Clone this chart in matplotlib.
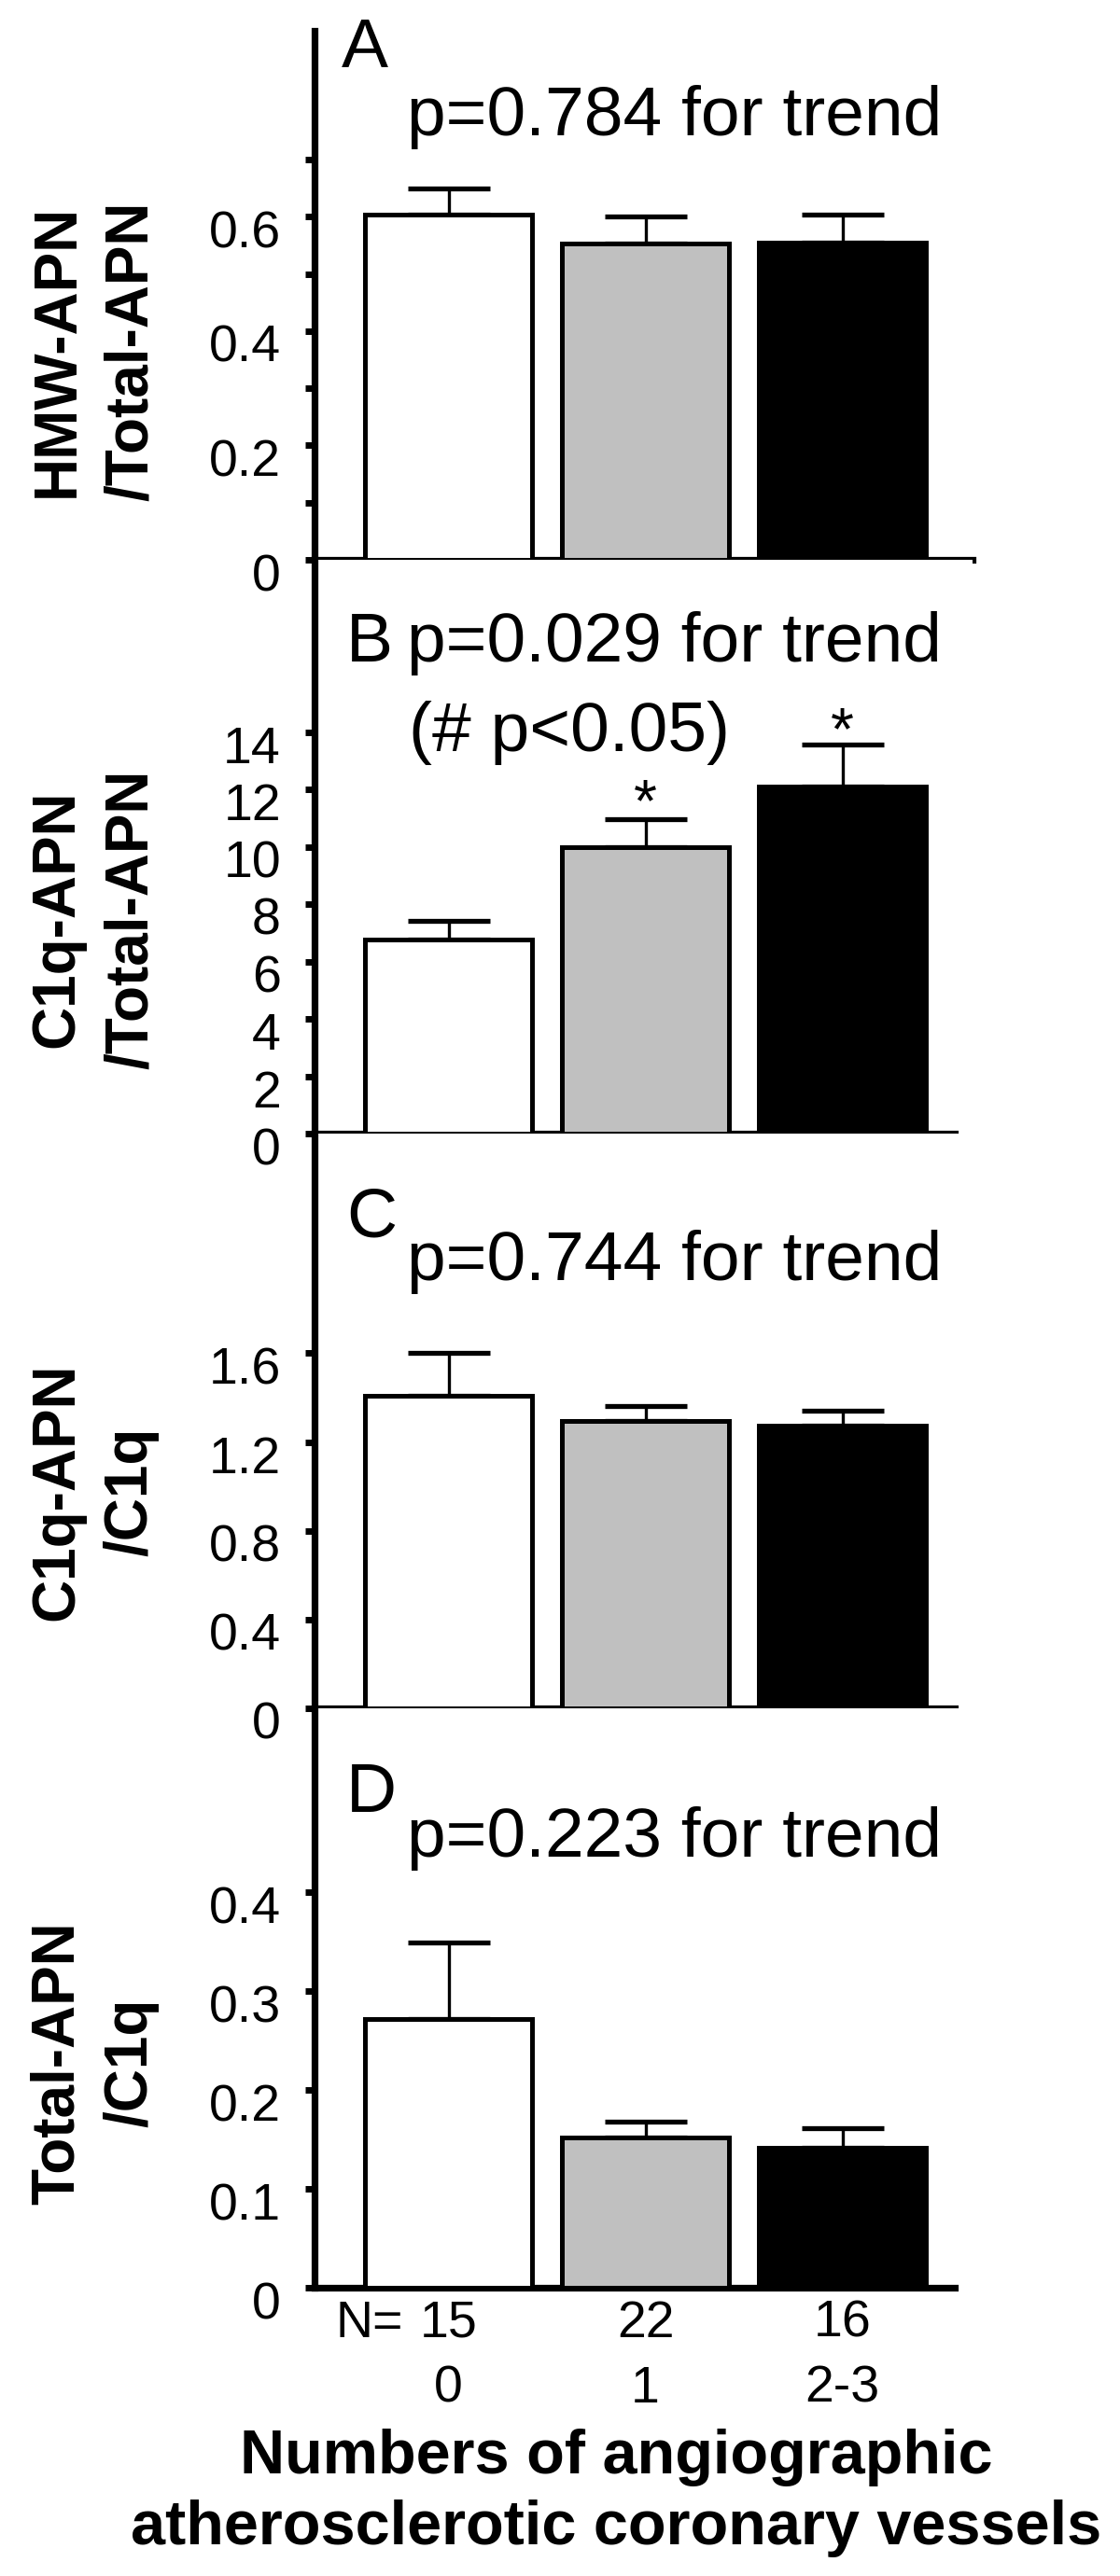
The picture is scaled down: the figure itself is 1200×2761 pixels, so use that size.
import numpy as np
import matplotlib.pyplot as plt
from matplotlib.transforms import ScaledTranslation, blended_transform_factory

plt.rcParams['font.family'] = ['Liberation Sans', 'DejaVu Sans']

# ---------------- data ----------------
groups = ['0', '1', '2-3']
n_counts = ['15', '22', '16']
bar_colors = ['white', '#c0c0c0', 'black']

hmw_total = [0.603, 0.553, 0.555]
hmw_total_err = [0.047, 0.047, 0.048]

c1q_total = [6.77, 9.97, 12.10]
c1q_total_err = [0.63, 0.99, 1.47]

c1q_apn_c1q = [1.41, 1.297, 1.272]
c1q_apn_c1q_err = [0.19, 0.065, 0.068]

total_c1q = [0.272, 0.152, 0.142]
total_c1q_err = [0.077, 0.016, 0.019]

panel_letters = ['A', 'B', 'C', 'D']
p_texts = ['p=0.784 for trend', 'p=0.029 for trend',
           'p=0.744 for trend', 'p=0.223 for trend']
y_titles = ['HMW-APN\n/Total-APN', 'C1q-APN\n/Total-APN',
            'C1q-APN\n/C1q', 'Total-APN\n/C1q']
y_ticks = [[0, 0.2, 0.4, 0.6],
           [0, 2, 4, 6, 8, 10, 12, 14],
           [0, 0.4, 0.8, 1.2, 1.6],
           [0, 0.1, 0.2, 0.3, 0.4]]
y_ticklabels = [['0', '0.2', '0.4', '0.6'],
                ['0', '2', '4', '6', '8', '10', '12', '14'],
                ['0', '0.4', '0.8', '1.2', '1.6'],
                ['0', '0.1', '0.2', '0.3', '0.4']]
a_minor_ticks = [0.1, 0.3, 0.5, 0.7]
y_tops = [0.925, 20.0, 2.59, 0.586]
sig_bars = [1, 2]          # groups marked with * in panel B
sig_star_y = [10.9, 13.4]  # star baselines in panel B units

values = [hmw_total, c1q_total, c1q_apn_c1q, total_c1q]
errors = [hmw_total_err, c1q_total_err, c1q_apn_c1q_err, total_c1q_err]

# ---------------- layout (pixels) ----------------
W, H = 1200, 2761
AX_LEFT, AX_RIGHT = 337, 1042
panel_px = [(33, 600), (600, 1215), (1215, 1831), (1831, 2452)]
letter_pos = [(366, 72), (371, 709), (371, 1325), (371, 1942)]
ptext_pos = [(436, 145), (436, 709), (436, 1372), (436, 1990)]
ytitle_pos = [(101, 376), (101, 985), (101, 1599), (101, 2211)]

fig = plt.figure(figsize=(W / 100, H / 100), dpi=100)


def fx(px):
    return px / W


def fy(py):
    return 1 - py / H


x = np.arange(len(groups))
tick_shift = ScaledTranslation(0, -0.13, fig.dpi_scale_trans)

for i in range(4):
    top, bottom = panel_px[i]
    ax = fig.add_axes([fx(AX_LEFT), fy(bottom), (AX_RIGHT - AX_LEFT) / W, (bottom - top) / H])

    ax.errorbar(x, values[i], yerr=[np.zeros(len(x)), errors[i]], fmt='none',
                ecolor='black', elinewidth=2.4, capsize=32, capthick=3.8, zorder=2)
    ax.bar(x, values[i], width=0.85, color=bar_colors, edgecolor='black',
           linewidth=3.6, zorder=3)

    ax.set_xlim(-0.68, 2.66)
    ax.set_ylim(0, y_tops[i])
    for s in ['top', 'right']:
        ax.spines[s].set_visible(False)
    for s in ['left', 'bottom']:
        ax.spines[s].set_linewidth(5.2)
    if i > 0:
        ax.spines['bottom'].set_bounds(-0.68, 2.57)

    ax.set_yticks(y_ticks[i], y_ticklabels[i])
    if i == 0:
        ax.set_yticks(a_minor_ticks, minor=True)
    ax.tick_params(axis='y', which='both', direction='out', length=7, width=5,
                   labelsize=40, pad=19)
    for lab in ax.get_yticklabels():
        lab.set_transform(lab.get_transform() + tick_shift)
    ax.set_xticks([])

    fig.text(fx(letter_pos[i][0]), fy(letter_pos[i][1]), panel_letters[i],
             fontsize=54, va='baseline', ha='left')
    fig.text(fx(ptext_pos[i][0]), fy(ptext_pos[i][1]), p_texts[i],
             fontsize=54, va='baseline', ha='left')
    fig.text(fx(ytitle_pos[i][0]), fy(ytitle_pos[i][1]), y_titles[i],
             fontsize=46, fontweight='bold', rotation=90, ha='center', va='center',
             multialignment='center', linespacing=1.4)

    if i == 1:
        fig.text(fx(438), fy(805), '(# p<0.05)', fontsize=54, va='baseline', ha='left')
        for g, sy in zip(sig_bars, sig_star_y):
            ax.text(x[g], sy, '*', fontsize=46, ha='center', va='baseline')

    if i == 3:
        trans = blended_transform_factory(ax.transData, ax.transAxes)
        for g in range(len(groups)):
            ax.text(x[g], -0.0853, n_counts[g], transform=trans, fontsize=40,
                    ha='center', va='baseline')
            ax.text(x[g], -0.198, groups[g], transform=trans, fontsize=40,
                    ha='center', va='baseline')
        ax.text(-0.23, -0.0853, 'N=', transform=trans, fontsize=40,
                ha='right', va='baseline')

fig.text(fx(660), fy(2651), 'Numbers of angiographic', fontsize=48,
         fontweight='bold', ha='center', va='baseline')
fig.text(fx(660), fy(2727), 'atherosclerotic coronary vessels', fontsize=48,
         fontweight='bold', ha='center', va='baseline')

fig.savefig('out.png', dpi=100)
